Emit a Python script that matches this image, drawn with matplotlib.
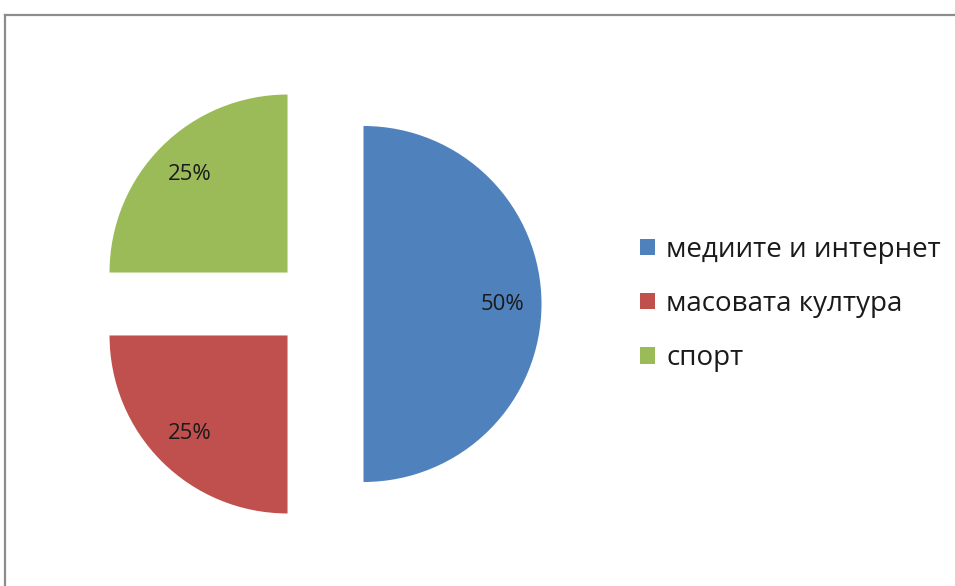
import matplotlib
matplotlib.use("Agg")
import matplotlib.pyplot as plt
from matplotlib.lines import Line2D

categories = ["медиите и интернет", "масовата култура", "спорт"]
values = [50, 25, 25]
colors = ["#4F81BD", "#C0504D", "#9BBB59"]
explode = [0.25, 0.25, 0.25]

W, H = 955, 586
fig = plt.figure(figsize=(W / 100, H / 100), dpi=100)
ax = fig.add_axes([0, 0, 1, 1])

R = 178.0
cx, cy = 319.0, 304.0
wedges, texts, autotexts = ax.pie(
    values, colors=colors, explode=explode, startangle=90, counterclock=False,
    autopct="%d%%", pctdistance=0.78, radius=1.0,
    textprops=dict(fontsize=16, family="Open Sans", color="#1a1a1a"),
    wedgeprops=dict(linewidth=0),
)
ax.set_aspect("auto")
ax.set_xlim(-cx / R, (W - cx) / R)
ax.set_ylim((cy - H) / R, cy / R)
ax.axis("off")

leg = fig.legend(wedges, categories, loc="center left",
                 bbox_to_anchor=(615 / W, 1 - 304 / H), frameon=False,
                 prop=dict(family="Open Sans", size=20),
                 handlelength=0.54, handleheight=0.54, handletextpad=0.4,
                 labelspacing=0.95)
for t in leg.get_texts():
    t.set_color("#1a1a1a")

# chart frame
fig.add_artist(Line2D([5 / W, 1], [1 - 15 / H, 1 - 15 / H], color="#8c8c8c", lw=1.6,
                      transform=fig.transFigure))
fig.add_artist(Line2D([5 / W, 5 / W], [0, 1 - 15 / H], color="#8c8c8c", lw=1.6,
                      transform=fig.transFigure))

fig.savefig("out.png", dpi=100, facecolor="white")
